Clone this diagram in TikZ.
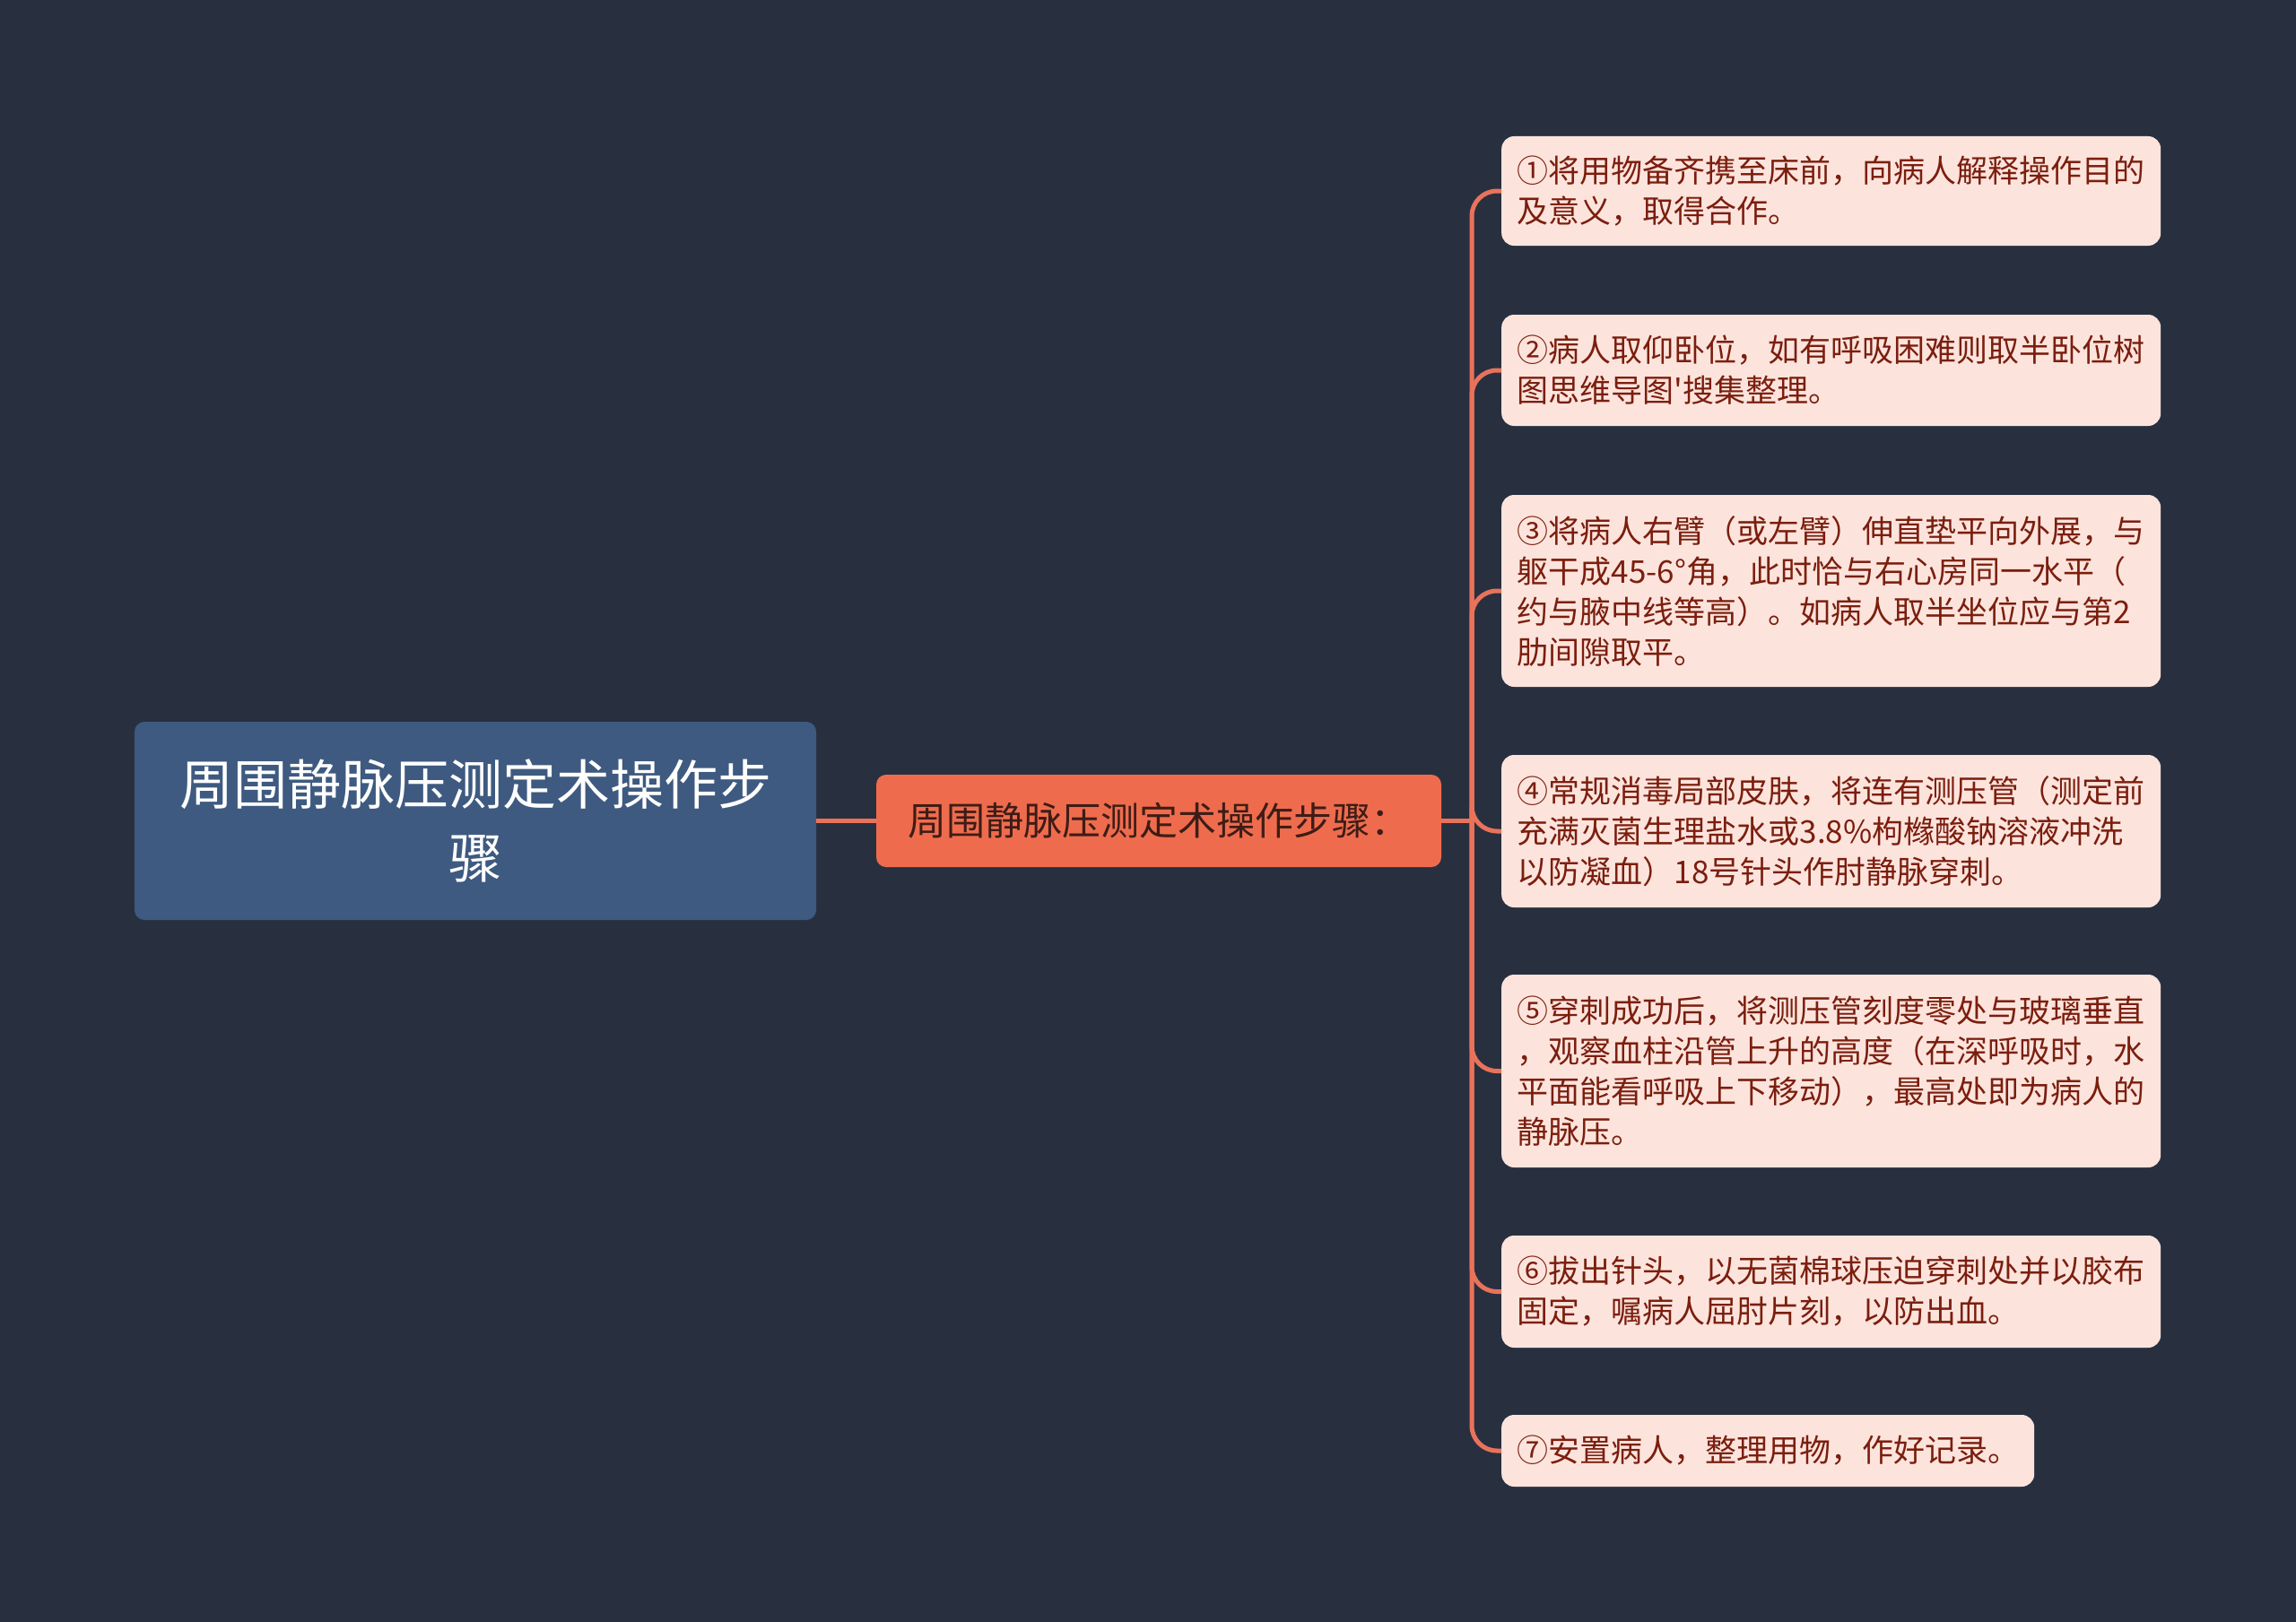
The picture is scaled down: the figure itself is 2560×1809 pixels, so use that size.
\documentclass[tikz,border=0pt]{standalone}
\usepackage{fontspec}
\setmainfont{Noto Sans CJK SC}[Ligatures=TeXOff]
\definecolor{bg}{HTML}{283040}
\definecolor{rootfill}{HTML}{3E5A80}
\definecolor{midfill}{HTML}{EE6C4D}
\definecolor{midtext}{HTML}{3E1C16}
\definecolor{leaffill}{HTML}{FCE4DD}
\definecolor{leaftext}{HTML}{7B1E0E}
\definecolor{conn}{HTML}{E9735A}
\tikzset{
  rootbox/.style={fill=rootfill, rounded corners=11pt, text=white, align=center,
    minimum width=760pt, minimum height=221pt, inner sep=0pt,
    font=\fontsize{60}{82}\selectfont},
  midbox/.style={fill=midfill, rounded corners=11pt, text=midtext, align=center,
    minimum width=630pt, minimum height=103pt, inner sep=0pt,
    font=\fontsize{43}{50}\selectfont},
  leafbox/.style={fill=leaffill, rounded corners=14pt, text=leaftext, align=left,
    minimum width=735pt, inner sep=0pt, anchor=west,
    font=\fontsize{35}{45}\selectfont},
  connline/.style={draw=conn, line width=5pt},
  branch/.style={draw=conn, line width=5pt, rounded corners=28pt},
}
\begin{document}
\begin{tikzpicture}[x=1pt,y=-1pt]
\useasboundingbox (0,0) rectangle (2560,1809);
\fill[bg] (0,0) rectangle (2560,1809);

\node[rootbox] (root) at (530,915.5) {周围静脉压测定术操作步\\骤};
\node[midbox] (mid) at (1292,915.5) {周围静脉压测定术操作步骤：};

\node[leafbox, minimum height=122pt] (n1) at (1674,213) {①将用物备齐携至床前，向病人解释操作目的\\及意义，取得合作。};
\node[leafbox, minimum height=124pt] (n2) at (1674,413) {②病人取仰卧位，如有呼吸困难则取半卧位树\\图思维导图'搜集整理。};
\node[leafbox, minimum height=214pt] (n3) at (1674,659) {③将病人右臂（或左臂）伸直垫平向外展，与\\躯干成45-6°角，此时恰与右心房同一水平（\\约与腋中线等高）。如病人取半坐位应与第2\\肋间隙取平。};
\node[leafbox, minimum height=170pt] (n4) at (1674,927) {④常规消毒局部皮肤，将连有测压管（测定前\\充满灭菌生理盐水或3.8\%枸橼酸钠溶液冲洗\\以防凝血）18号针头作肘静脉穿刺。};
\node[leafbox, minimum height=215pt] (n5) at (1674,1194.5) {⑤穿刺成功后，将测压管刻度零处与玻璃垂直\\，观察血柱沿管上升的高度（在深呼吸时，水\\平面能看呼吸上下移动），最高处即为病人的\\静脉压。};
\node[leafbox, minimum height=125pt] (n6) at (1674,1440.5) {⑥拔出针头，以无菌棉球压迫穿刺处并以胶布\\固定，嘱病人屈肘片刻，以防出血。};
\node[leafbox, minimum height=80pt, minimum width=594pt] (n7) at (1674,1618) {⑦安置病人，整理用物，作好记录。};

\coordinate (j) at (1641,915.5);
\draw[connline] (root.east) -- (mid.west);
\draw[connline] (mid.east) -- (j);
\foreach \n in {n1,n2,n3,n4,n5,n6,n7}{
  \draw[branch] (j) |- (\n.west);
}
\end{tikzpicture}
\end{document}
